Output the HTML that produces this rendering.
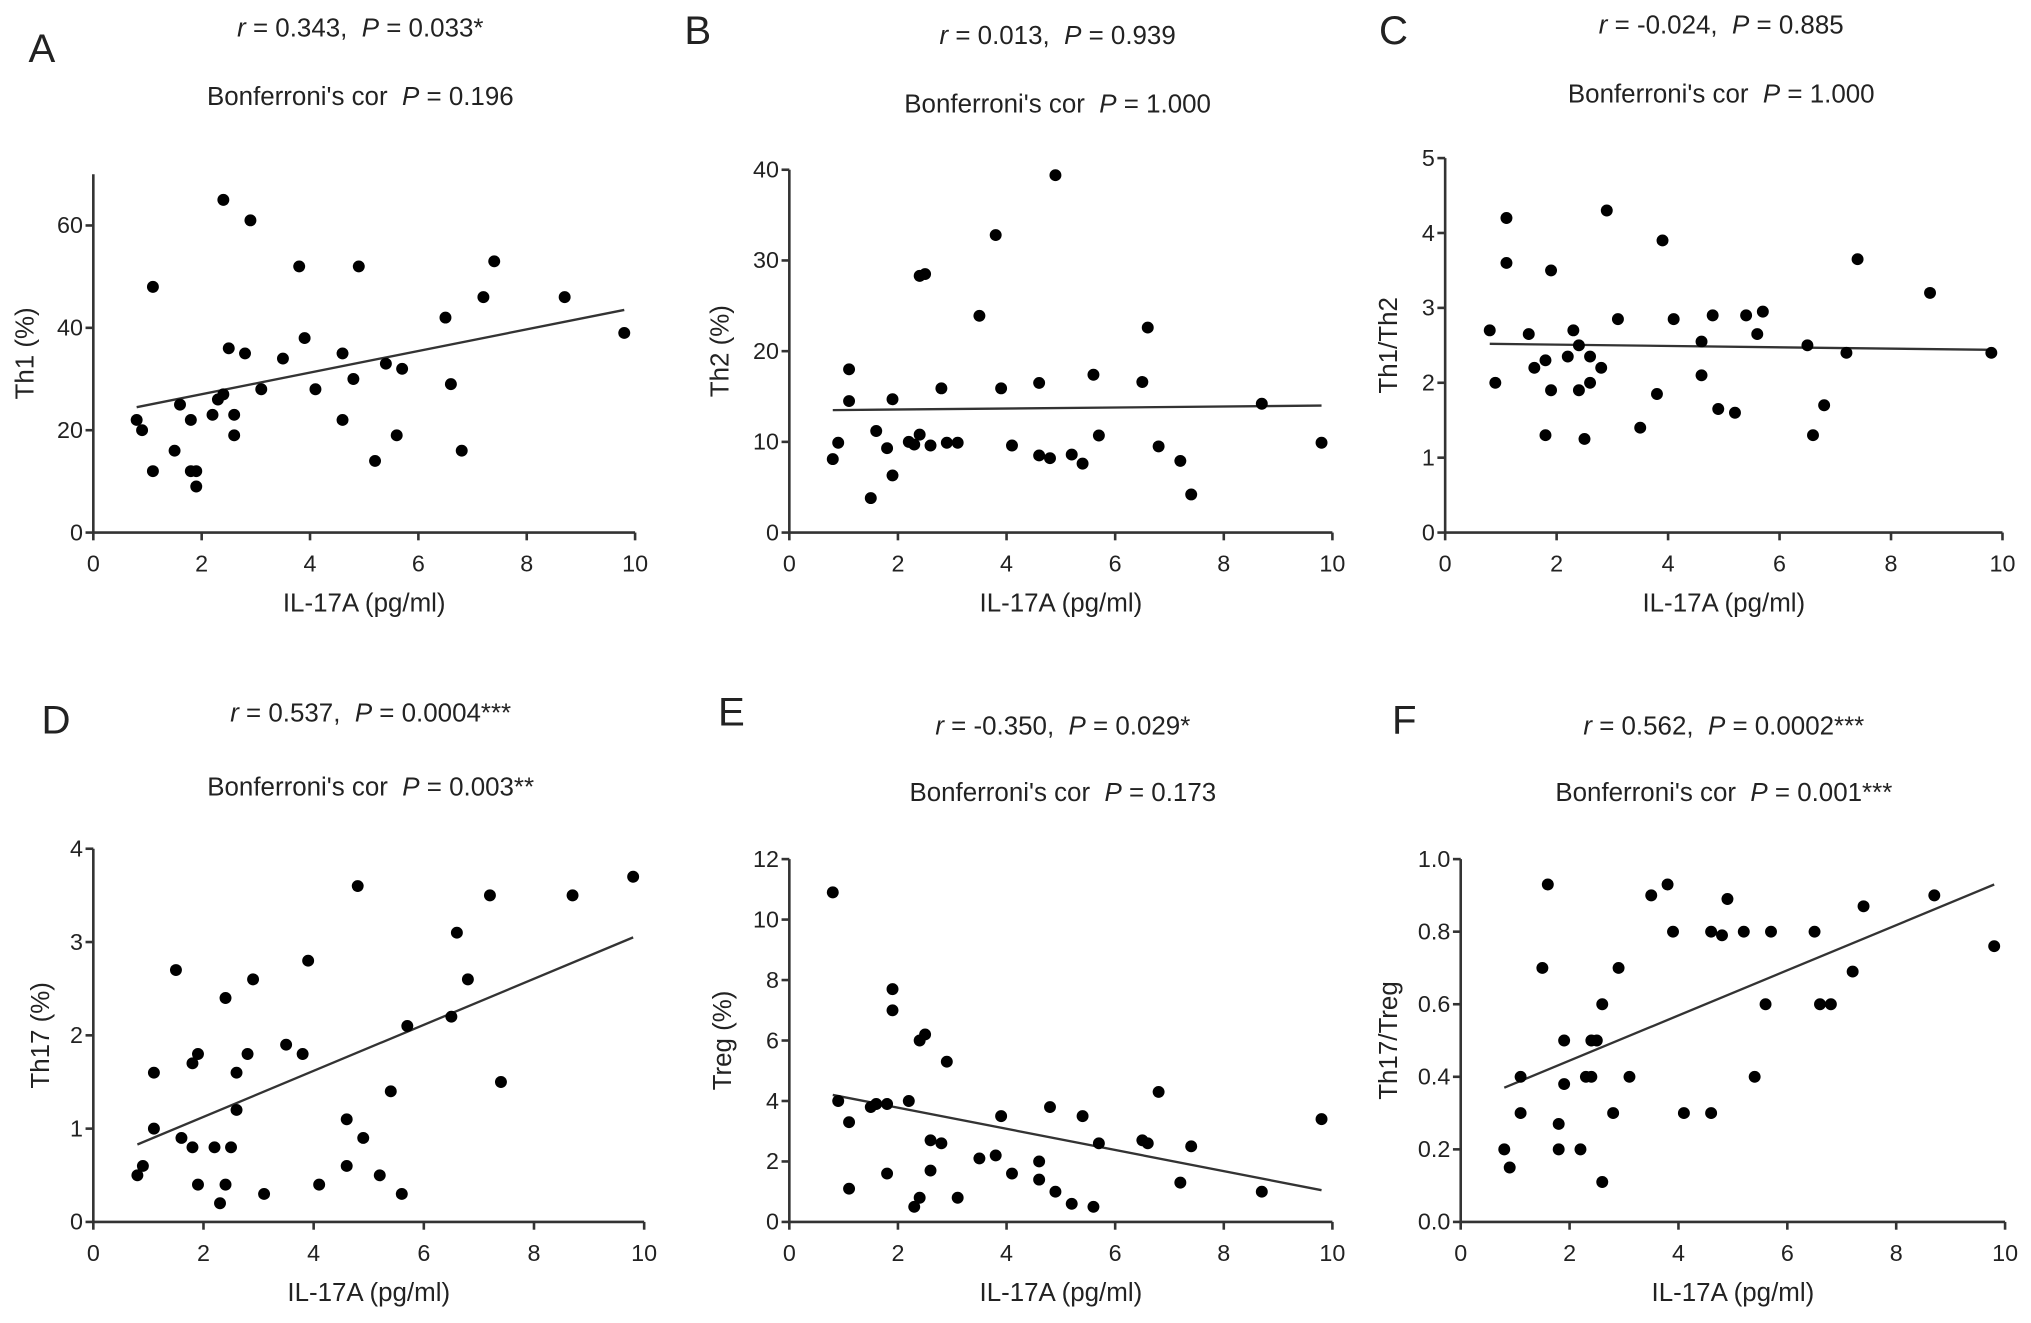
<!DOCTYPE html>
<html><head><meta charset="utf-8"><style>
html,body{margin:0;padding:0;background:#fff}
svg{display:block}
text{font-family:"Liberation Sans",Arial,sans-serif;fill:#222;white-space:pre}
</style></head><body>
<svg id="fig" width="2031" height="1323" viewBox="0 0 1567 1021" preserveAspectRatio="none" xmlns="http://www.w3.org/2000/svg" xml:space="preserve"></svg>
<script>
const xs = [0.8,0.9,1.1,1.1,1.5,1.6,1.8,1.8,1.9,1.9,2.2,2.3,2.4,2.4,2.5,2.6,2.6,2.8,2.9,3.1,3.5,3.8,3.9,4.1,4.6,4.6,4.8,4.9,5.2,5.4,5.6,5.7,6.5,6.6,6.8,7.2,7.4,8.7,9.8];
const xsA = [0.8,0.9,1.1,1.1,1.5,1.6,1.8,1.8,1.9,1.9,2.2,2.3,2.4,2.4,2.5,2.6,2.6,2.8,2.9,3.1,3.5,3.8,3.9,4.1,4.6,4.6,4.8,4.9,5.2,5.4,5.6,5.7,6.5,6.6,6.8,7.2,7.4,8.7,9.8];
const yA = [22,20,48,12,16,25,22,12,12,9,23,26,27,65,36,23,19,35,61,28,34,52,38,28,35,22,30,52,14,33,19,32,42,29,16,46,53,46,39];
const xsB = [0.8,0.9,1.1,1.1,1.5,1.6,1.8,1.9,1.9,2.2,2.3,2.4,2.4,2.5,2.6,2.8,2.9,3.1,3.5,3.8,3.9,4.1,4.6,4.6,4.8,4.9,5.2,5.4,5.6,5.7,6.5,6.6,6.8,7.2,7.4,8.7,9.8];
const yB = [8.1,9.9,18,14.5,3.8,11.2,9.3,6.3,14.7,10,9.7,28.3,10.8,28.5,9.6,15.9,9.9,9.9,23.9,32.8,15.9,9.6,16.5,8.5,8.2,39.4,8.6,7.6,17.4,10.7,16.6,22.6,9.5,7.9,4.2,14.2,9.9];
const yC = [2.7,2.0,4.2,3.6,2.65,2.2,2.3,1.3,3.5,1.9,2.35,2.7,1.9,2.5,1.25,2.35,2.0,2.2,4.3,2.85,1.4,1.85,3.9,2.85,2.55,2.1,2.9,1.65,1.6,2.9,2.65,2.95,2.5,1.3,1.7,2.4,3.65,3.2,2.4];
const xsC = [0.8,0.9,1.1,1.1,1.5,1.6,1.8,1.8,1.9,1.9,2.2,2.3,2.4,2.4,2.5,2.6,2.6,2.8,2.9,3.1,3.5,3.8,3.9,4.1,4.6,4.6,4.8,4.9,5.2,5.4,5.6,5.7,6.5,6.6,6.8,7.2,7.4,8.7,9.8];
const yD = [0.5,0.6,1.6,1.0,2.7,0.9,1.7,0.8,1.8,0.4,0.8,0.2,2.4,0.4,0.8,1.6,1.2,1.8,2.6,0.3,1.9,1.8,2.8,0.4,1.1,0.6,3.6,0.9,0.5,1.4,0.3,2.1,2.2,3.1,2.6,3.5,1.5,3.5,3.7];
const yE = [10.9,4,3.3,1.1,3.8,3.9,1.6,3.9,7.7,7.0,4.0,0.5,0.8,6.0,6.2,1.7,2.7,2.6,5.3,0.8,2.1,2.2,3.5,1.6,2.0,1.4,3.8,1.0,0.6,3.5,0.5,2.6,2.7,2.6,4.3,1.3,2.5,1.0,3.4];
const yF = [0.2,0.15,0.4,0.3,0.7,0.93,0.27,0.2,0.5,0.38,0.2,0.4,0.4,0.5,0.5,0.6,0.11,0.3,0.7,0.4,0.9,0.93,0.8,0.3,0.8,0.3,0.79,0.89,0.8,0.4,0.6,0.8,0.8,0.6,0.6,0.69,0.87,0.9,0.76];
const xTicks = [0,2,4,6,8,10];
const fitA = [24.5,43.5], fitB = [13.5,14.0], fitC = [2.52,2.44], fitD = [0.83,3.05], fitE = [4.2,1.05], fitF = [0.37,0.93];
const fitX = [0.8,9.8];

const panels = [
 {id:'a',L:'A',lx:22,ly:48,x0:72,x1:490,y0:411,yT:174,yTv:60,yMax:70,yTicks:[0,20,40,60],fmt:v=>v,title:'Th1 (%)',tx:20,xv:xsA,yv:yA,fit:fitA,t1:['r',' = 0.343,  ','P',' = 0.033*'],t1y:28,t2:"P = 0.196",t2y:81,cx:278},
 {id:'b',L:'B',lx:528,ly:34,x0:609,x1:1028,y0:411,yT:131,yTv:40,yMax:40,yTicks:[0,10,20,30,40],fmt:v=>v,title:'Th2 (%)',tx:556,xv:xsB,yv:yB,fit:fitB,t1:['r',' = 0.013,  ','P',' = 0.939'],t1y:34,t2:"P = 1.000",t2y:87,cx:816},
 {id:'c',L:'C',lx:1064,ly:34,x0:1115,x1:1545,y0:411,yT:122,yTv:5,yMax:5,yTicks:[0,1,2,3,4,5],fmt:v=>v,title:'Th1/Th2',tx:1072,xv:xsC,yv:yC,fit:fitC,t1:['r',' = -0.024,  ','P',' = 0.885'],t1y:26,t2:"P = 1.000",t2y:79,cx:1328},
 {id:'d',L:'D',lx:32,ly:566,x0:72,x1:497,y0:943,yT:655,yTv:4,yMax:4,yTicks:[0,1,2,3,4],fmt:v=>v,title:'Th17 (%)',tx:32,xv:xs,yv:yD,fit:fitD,t1:['r',' = 0.537,  ','P',' = 0.0004***'],t1y:557,t2:"P = 0.003**",t2y:614,cx:286},
 {id:'e',L:'E',lx:554,ly:560,x0:609,x1:1028,y0:943,yT:663,yTv:12,yMax:12,yTicks:[0,2,4,6,8,10,12],fmt:v=>v,title:'Treg (%)',tx:558,xv:xs,yv:yE,fit:fitE,t1:['r',' = -0.350,  ','P',' = 0.029*'],t1y:567,t2:"P = 0.173",t2y:618,cx:820},
 {id:'f',L:'F',lx:1074,ly:566,x0:1127,x1:1547,y0:943,yT:663,yTv:1.0,yMax:1.0,yTicks:[0,0.2,0.4,0.6,0.8,1.0],fmt:v=>v.toFixed(1),title:'Th17/Treg',tx:1072,xv:xs,yv:yF,fit:fitF,t1:['r',' = 0.562,  ','P',' = 0.0002***'],t1y:567,t2:"P = 0.001***",t2y:618,cx:1330}
];
const NS='http://www.w3.org/2000/svg';
const svg=document.getElementById('fig');
function mk(tag,attrs,parent){const e=document.createElementNS(NS,tag);for(const k in attrs)e.setAttribute(k,attrs[k]);(parent||svg).appendChild(e);return e;}
panels.forEach(p=>{
  const g=mk('g',{});
  
  
  const sx=v=>p.x0+(p.x1-p.x0)*v/10;
  const sy=v=>p.y0-(p.y0-p.yT)*v/p.yTv;
  const lt=mk('text',{x:p.lx,y:p.ly,'font-size':31},g);lt.textContent=p.L;
  
  
  const t1=mk('text',{x:p.cx,y:p.t1y,'font-size':20,'text-anchor':'middle'},g);
  
  
  p.t1.forEach((s,i)=>{const ts=mk('tspan',(i%2==0)?{'font-style':'italic'}:{},t1);ts.textContent=s;});
  const t2=mk('text',{x:p.cx,y:p.t2y,'font-size':20,'text-anchor':'middle'},g);
  
  
  const a=mk('tspan',{},t2);a.textContent="Bonferroni's cor  ";
  const b=mk('tspan',{'font-style':'italic'},t2);b.textContent="P";
  const c=mk('tspan',{},t2);c.textContent=p.t2.slice(1);
  const topY=sy(p.yMax);
  const ax=mk('path',{d:`M${p.x0},${topY} L${p.x0},${p.y0} L${p.x1},${p.y0}`,stroke:'#333','stroke-width':2,fill:'none'},g);
  
  
  xTicks.forEach(v=>{
    mk('line',{x1:sx(v),x2:sx(v),y1:p.y0,y2:p.y0+6,stroke:'#333','stroke-width':2},g);
    const t=mk('text',{x:sx(v),y:p.y0+30,'font-size':18,'text-anchor':'middle'},g);t.textContent=v;
    
    
  });
  p.yTicks.forEach(v=>{
    mk('line',{x1:p.x0-6,x2:p.x0,y1:sy(v),y2:sy(v),stroke:'#333','stroke-width':2},g);
    const t=mk('text',{x:p.x0-8,y:sy(v)+6,'font-size':18,'text-anchor':'end'},g);t.textContent=p.fmt(v);
    
    
  });
  const xt=mk('text',{x:(p.x0+p.x1)/2,y:p.y0+61,'font-size':20,'text-anchor':'middle'},g);xt.textContent='IL-17A (pg/ml)';
  
  
  const ym=(p.y0+topY)/2;
  const yt=mk('text',{x:p.tx,y:ym,'font-size':20,'text-anchor':'middle',transform:`rotate(-90 ${p.tx} ${ym})`,dy:6},g);yt.textContent=p.title;
  
  
  const fl=mk('line',{x1:sx(fitX[0]),y1:sy(p.fit[0]),x2:sx(fitX[1]),y2:sy(p.fit[1]),stroke:'#333','stroke-width':1.8},g);
  
  
  p.yv.forEach((v,i)=>{
    const d=mk('circle',{cx:sx(p.xv[i]),cy:sy(v),r:4.6,fill:'#000'},g);
    
    
  });
});
</script>
</body></html>
